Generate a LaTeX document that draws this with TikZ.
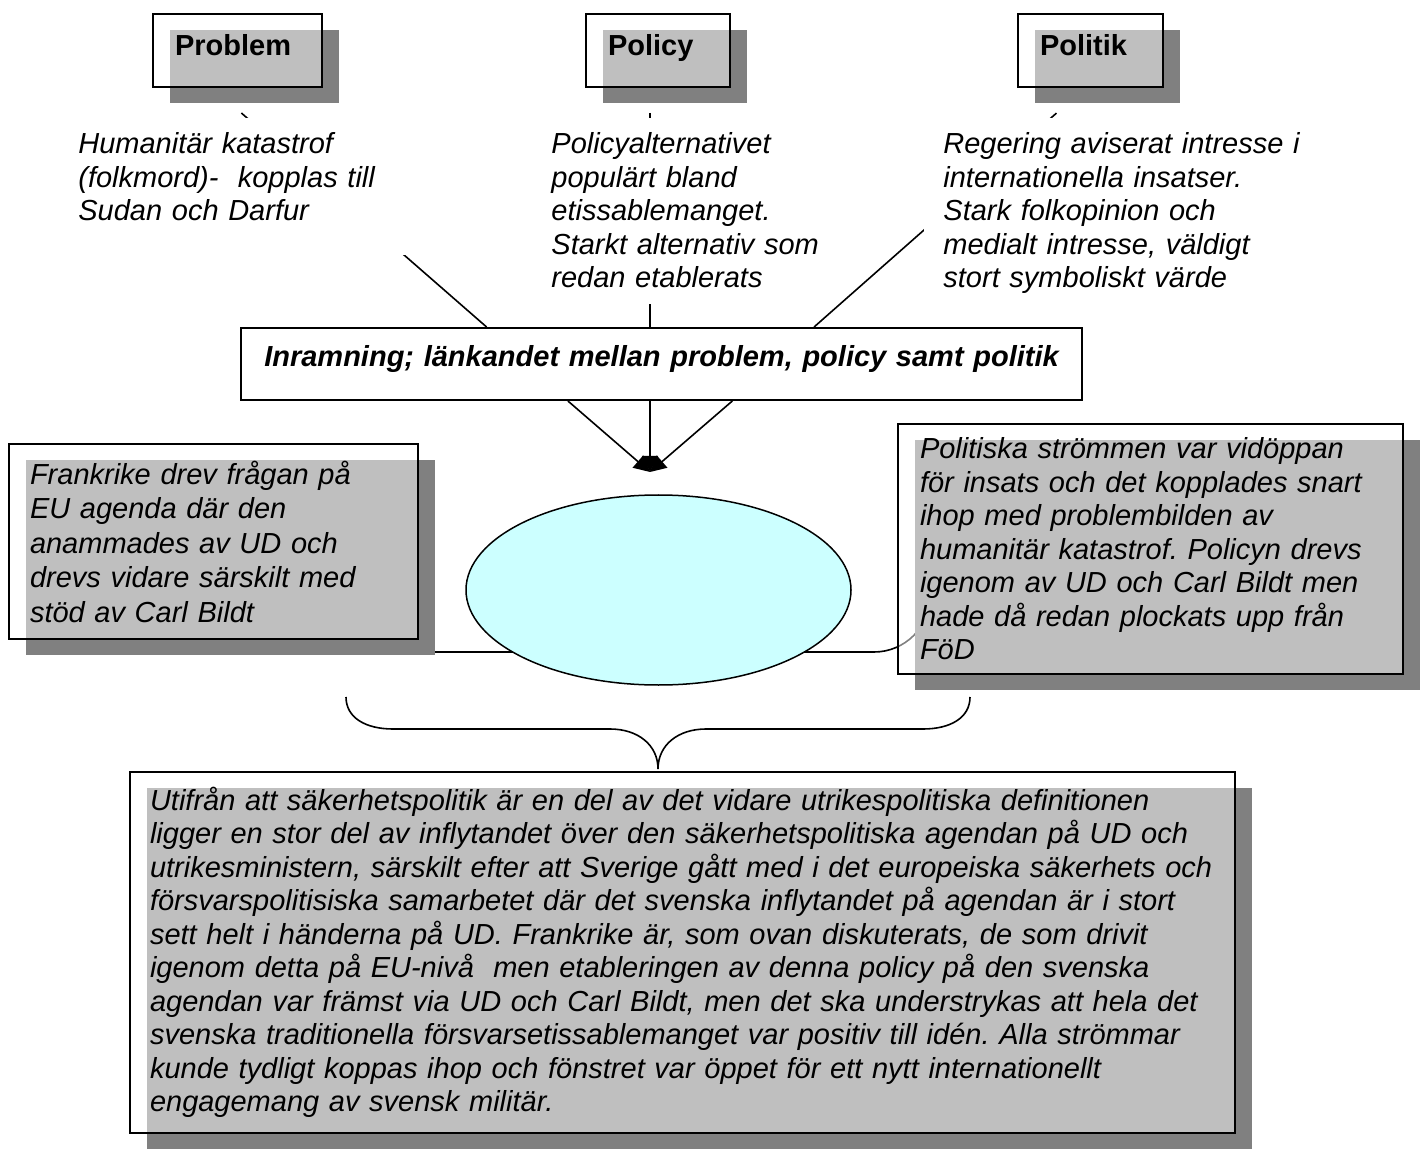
\documentclass[tikz,border=0pt]{standalone}
\usepackage{fontspec}
\setmainfont{Liberation Sans}
\usepackage{tikz}
\usetikzlibrary{arrows.meta, calc, shadows, shapes.geometric}
\definecolor{shade}{HTML}{808080}
\definecolor{windowcyan}{HTML}{CCFFFF}
\pgfdeclarelayer{background}
\pgfsetlayers{background,main}
\frenchspacing

\tikzset{
    box/.style={draw, line width=1pt, fill=white, fill opacity=0.5, text opacity=1, align=left,
        drop shadow={shadow xshift=8.5pt, shadow yshift=-8pt, fill=shade, opacity=1}},
    headbox/.style={box, font=\fontsize{14.5pt}{16.75pt}\selectfont\bfseries, inner xsep=11pt, inner ysep=5pt, text height=16pt, text depth=10.5pt},
    textbox/.style={box, font=\fontsize{14.5pt}{16.75pt}\selectfont\itshape},
    note/.style={anchor=base west, inner sep=0pt, align=left, font=\fontsize{14.5pt}{16.75pt}\selectfont\itshape},
    link/.style={line width=0.8pt},
    mask/.style={fill=white}
}

\begin{document}
\begin{tikzpicture}[x=0.5pt, y=-0.5pt]
        \useasboundingbox (0, 0) rectangle (1423, 1149);

        \node (prob) at (237.5, 50.5)[headbox, text width=62.5pt] {Problem};
        \node (pol) at (658, 50.5)[headbox, text width=50pt] {Policy};
        \node (polit) at (1090.5, 50.5)[headbox, text width=50.5pt] {Politik};

        \node (fram) at (661.5, 364)[draw, line width=1pt, fill=white, align=center, text width=410.5pt, inner xsep=5pt, inner ysep=5pt, text height=14.5pt, text depth=11.5pt, font=\fontsize{14.5pt}{16.75pt}\selectfont\bfseries\itshape] {Inramning; länkandet mellan problem, policy samt politik};

        \coordinate (tip) at (650, 472);
        \coordinate (lnk) at (213, 652);
        \coordinate (hook) at (930, 560);

        \draw[link, shorten <=19pt] ($(prob.south west)!0.355!(prob.south east)$) -- ($(fram.north west)!0.2925!(fram.north east)$);
        \draw[link, shorten <=12.5pt] (pol.south -| tip) -- (fram.north -| tip);
        \draw[link, shorten <=19pt] ($(polit.south west)!0.462!(polit.south east)$) -- ($(fram.north west)!0.681!(fram.north east)$);

        \fill[mask] (70, 118) rectangle (410, 255);
        \fill[mask] (545, 118) rectangle (838, 304);
        \fill[mask] (924, 118) rectangle (1330, 300);

        \node (probtext) at (78, 154)[note, text width=160pt] {Humanitär katastrof\\ (folkmord)-~ kopplas till\\ Sudan och Darfur};
        \node (poltext) at (551, 154)[note, text width=150pt] {Policyalternativet\\ populärt bland\\ etissablemanget.\\ Starkt alternativ som\\ redan etablerats};
        \node (polittext) at (943, 154)[note, text width=200pt] {Regering aviserat intresse i\\ internationella insatser.\\ Stark folkopinion och\\ medialt intresse, väldigt\\ stort symboliskt värde};

        \draw[link, -{Triangle[length=8pt, width=8pt]}] ($(fram.south west)!0.389!(fram.south east)$) -- (tip);
        \draw[link, -{Triangle[length=8pt, width=8pt]}] (fram.south -| tip) -- (tip);
        \draw[link, -{Triangle[length=8pt, width=8pt]}] ($(fram.south west)!0.584!(fram.south east)$) -- (tip);

        \node (lbox) at (213.5, 541.5)[textbox, text width=183.5pt, inner xsep=10.5pt, minimum height=97.5pt, font=\fontsize{14.5pt}{17.25pt}\selectfont\itshape] {Frankrike drev frågan på\\ EU agenda där den\\ anammades av UD och\\ drevs vidare särskilt med\\ stöd av Carl Bildt};
        \node (rbox) at (1150.5, 549)[textbox, text width=230.5pt, inner xsep=11pt, minimum height=125pt] {Politiska strömmen var vidöppan\\ för insats och det kopplades snart\\ ihop med problembilden av\\ humanitär katastrof. Policyn drevs\\ igenom av UD och Carl Bildt men\\ hade då redan plockats upp från\\ FöD};

        \node (win) at (658.5, 590)[ellipse, draw, line width=0.75pt, fill=windowcyan, minimum width=192.5pt, minimum height=95pt, inner sep=0pt] {};

        \begin{pgfonlayer}{background}
            \draw[link, rounded corners=28pt] (lnk) -| (hook);
        \end{pgfonlayer}

        \draw[line width=0.8pt] (346, 697) .. controls (346, 718) and (366, 729) .. (393, 729) -- (610, 729) .. controls (638, 729) and (658, 745) .. (658, 769) .. controls (658, 745) and (678, 729) .. (706, 729) -- (923, 729) .. controls (950, 729) and (970, 718) .. (970, 697);

        \node (sumbox) at (682.5, 952.5)[textbox, text width=532.5pt, inner xsep=10pt, minimum height=180.5pt] {Utifrån att säkerhetspolitik är en del av det vidare utrikespolitiska definitionen\\ ligger en stor del av inflytandet över den säkerhetspolitiska agendan på UD och\\ utrikesministern, särskilt efter att Sverige gått med i det europeiska säkerhets och\\ försvarspolitisiska samarbetet där det svenska inflytandet på agendan är i stort\\ sett helt i händerna på UD. Frankrike är, som ovan diskuterats, de som drivit\\ igenom detta på EU-nivå~ men etableringen av denna policy på den svenska\\ agendan var främst via UD och Carl Bildt, men det ska understrykas att hela det\\ svenska traditionella försvarsetissablemanget var positiv till idén. Alla strömmar\\ kunde tydligt koppas ihop och fönstret var öppet för ett nytt internationellt\\ engagemang av svensk militär.};
\end{tikzpicture}
\end{document}
